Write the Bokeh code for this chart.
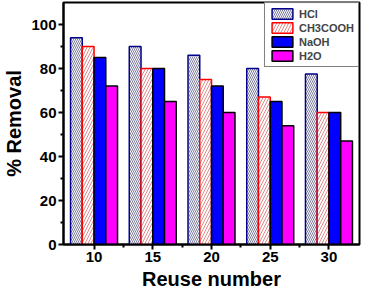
from bokeh.plotting import figure
from bokeh.models import ColumnDataSource, Range1d, FixedTicker, Legend, LegendItem
from bokeh.transform import dodge
from bokeh.embed import file_html
from bokeh.resources import INLINE

reuse = [10, 15, 20, 25, 30]
hcl = [94, 90, 86, 80, 77.5]
ch3cooh = [90, 80, 75, 67, 60]
naoh = [85, 80, 72, 65, 60]
h2o = [72, 65, 60, 54, 47]
series_names = ["HCl", "CH3COOH", "NaOH", "H2O"]

src = ColumnDataSource(dict(reuse=reuse, hcl=hcl, ch3cooh=ch3cooh, naoh=naoh, h2o=h2o))

FONT = "Liberation Sans"
p = figure(width=362, height=292, output_backend="svg", toolbar_location=None,
           x_range=Range1d(7.4, 32.6), y_range=Range1d(0, 110),
           min_border_left=50, min_border_right=3, min_border_top=2, min_border_bottom=40)
p.grid.visible = False
p.outline_line_color = "black"
p.outline_line_width = 2
p.background_fill_color = "white"

r1 = p.vbar(x=dodge("reuse", -1.5), top="hcl", width=1, source=src,
            fill_color="white", line_color="#00008b", line_width=1.5,
            hatch_pattern="left_diagonal_line", hatch_color="#7a7a9e",
            hatch_scale=4, hatch_weight=1)
r2 = p.vbar(x=dodge("reuse", -0.5), top="ch3cooh", width=1, source=src,
            fill_color="white", line_color="#ff0000", line_width=1.5,
            hatch_pattern="right_diagonal_line", hatch_color="#e08a8a",
            hatch_scale=6, hatch_weight=1)
r3 = p.vbar(x=dodge("reuse", 0.5), top="naoh", width=1, source=src,
            fill_color="#0000ff", line_color="black", line_width=1.5)
r4 = p.vbar(x=dodge("reuse", 1.5), top="h2o", width=1, source=src,
            fill_color="#ff00ff", line_color="black", line_width=1.5)

for ax in (p.xaxis[0], p.yaxis[0]):
    ax.axis_line_width = 2
    ax.major_tick_line_width = 2
    ax.minor_tick_line_width = 2
    ax.major_tick_in = 0
    ax.major_tick_out = 5
    ax.minor_tick_in = 0
    ax.minor_tick_out = 3
    ax.major_label_text_font = FONT
    ax.major_label_text_font_style = "bold"
    ax.major_label_text_font_size = "15px"
    ax.major_label_text_color = "black"
    ax.axis_label_text_font = FONT
    ax.axis_label_text_font_style = "bold"
    ax.axis_label_text_font_size = "20px"
    ax.axis_label_text_color = "black"
    ax.major_label_standoff = 2
    ax.axis_label_standoff = 3

p.xaxis.ticker = FixedTicker(ticks=reuse, minor_ticks=[12.5, 17.5, 22.5, 27.5])
p.yaxis.ticker = FixedTicker(ticks=[0, 20, 40, 60, 80, 100], minor_ticks=[10, 30, 50, 70, 90])
p.xaxis.axis_label = "Reuse number"
p.yaxis.axis_label = "% Removal"

legend = Legend(items=[LegendItem(label=n, renderers=[r]) for n, r in zip(series_names, [r1, r2, r3, r4])],
                location="top_right")
legend.label_text_font = FONT
legend.label_text_font_style = "bold"
legend.label_text_font_size = "11px"
legend.glyph_width = 26
legend.glyph_height = 13
legend.label_height = 13
legend.spacing = 1
legend.padding = 4
legend.margin = 0
legend.label_standoff = 4
legend.border_line_color = "black"
legend.border_line_width = 1
p.add_layout(legend)

open("out.html", "w").write(file_html(p, INLINE))
